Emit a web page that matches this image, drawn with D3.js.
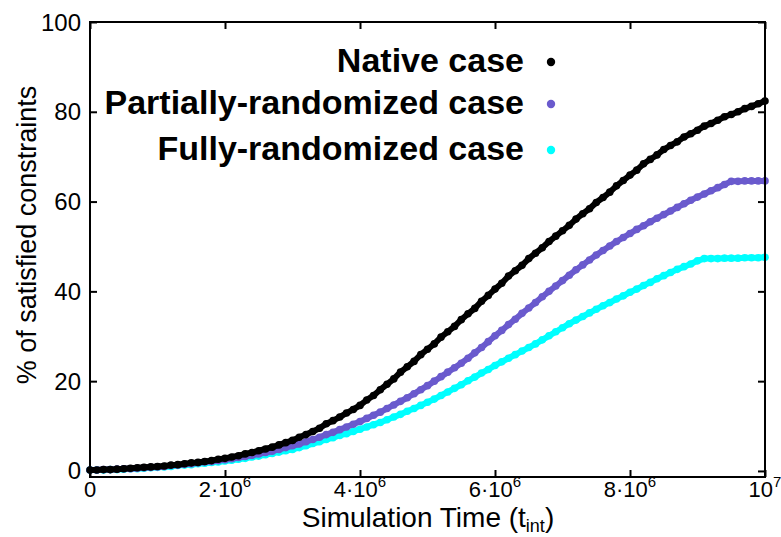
<!DOCTYPE html>
<html><head><meta charset="utf-8">
<script src="https://cdn.jsdelivr.net/npm/d3@7"></script>
<style>body{margin:0;background:#fff}svg{display:block}text{font-family:"Liberation Sans",Arial,sans-serif}</style>
</head><body>
<svg id="c" width="781" height="537"></svg>
<script>
// time in units of 1e6 t_int, step 0.1
const times = d3.range(0, 101).map(i => i / 10);
const nativeCase = [0.2,0.2,0.3,0.3,0.4,0.5,0.6,0.7,0.8,0.9,
 1.0,1.1,1.3,1.4,1.6,1.8,1.9,2.1,2.3,2.6,
 2.8,3.1,3.4,3.8,4.1,4.5,4.9,5.3,5.8,6.3,
 6.8,7.5,8.1,8.8,9.5,10.5,11.2,12.0,12.9,13.7,
 14.6,15.8,16.8,18.1,19.3,20.5,22.0,23.2,24.4,25.9,
 27.1,28.3,29.8,31.0,32.2,33.7,35.0,36.2,37.8,39.1,
 40.5,41.8,43.4,44.6,45.8,47.3,48.5,49.7,51.1,52.3,
 53.5,54.7,56.1,57.3,58.4,59.8,60.9,62.1,63.5,64.7,
 65.9,67.0,68.4,69.4,70.4,71.6,72.5,73.3,74.4,75.1,
 75.9,76.8,77.4,78.1,78.9,79.4,80.0,80.7,81.2,81.8,82.4];
const partialCase = [0.2,0.2,0.3,0.3,0.4,0.5,0.5,0.6,0.7,0.8,
 0.9,1.0,1.2,1.3,1.5,1.6,1.8,2.0,2.1,2.3,
 2.5,2.7,3.0,3.2,3.5,3.8,4.1,4.4,4.8,5.2,
 5.6,6.0,6.5,7.0,7.5,8.1,8.6,9.2,9.8,10.4,
 11.0,11.7,12.4,13.1,13.9,14.7,15.5,16.3,17.2,18.1,
 19.0,20.0,21.0,22.0,23.0,24.0,25.1,26.3,27.5,28.8,
 30.1,31.3,32.6,33.8,35.1,36.3,37.5,38.8,40.0,41.2,
 42.4,43.6,44.8,45.9,47.0,48.1,49.1,50.1,51.1,52.0,
 52.9,53.8,54.6,55.5,56.3,57.1,57.9,58.7,59.5,60.3,
 61.0,61.7,62.4,63.1,63.8,64.5,64.5,64.6,64.6,64.6,64.6];
const fullyCase = [0.2,0.2,0.2,0.3,0.3,0.4,0.5,0.5,0.6,0.7,
 0.8,0.9,1.0,1.2,1.3,1.4,1.6,1.7,1.9,2.0,
 2.2,2.4,2.6,2.8,3.1,3.3,3.6,3.9,4.2,4.5,
 4.8,5.2,5.6,6.1,6.5,7.0,7.4,7.9,8.3,8.8,
 9.3,9.8,10.3,10.8,11.4,12.0,12.6,13.3,13.9,14.6,
 15.3,16.0,16.8,17.6,18.4,19.2,20.1,20.9,21.8,22.6,
 23.5,24.3,25.1,25.9,26.7,27.5,28.3,29.2,30.1,31.0,
 31.9,32.8,33.6,34.4,35.2,36.0,36.8,37.5,38.3,39.0,
 39.8,40.5,41.3,42.0,42.8,43.5,44.2,44.9,45.5,46.1,
 46.8,47.3,47.3,47.3,47.4,47.4,47.4,47.5,47.5,47.5,47.6];
const seriesNames = ["Native case", "Partially-randomized case", "Fully-randomized case"];
const seriesColors = ["#000000", "#6a5acd", "#00ffff"];
const xTickValues = [0, 2, 4, 6, 8, 10];
const xTickLabels = [["0",""],["2·10","6"],["4·10","6"],["6·10","6"],["8·10","6"],["10","7"]];
const yTickValues = [0, 20, 40, 60, 80, 100];

const svg = d3.select("#c");
const L = 90, R = 765, T = 22, B = 477;
const x = d3.scaleLinear().domain([0, 10]).range([L, R]);
const y = d3.scaleLinear().domain([-1.35, 100]).range([B, T]);

const series = [nativeCase, partialCase, fullyCase].map((v, i) => ({
  name: seriesNames[i], color: seriesColors[i],
  pts: v.map((d, j) => [times[j], d])
}));

const line = d3.line().x(d => x(d[0])).y(d => y(d[1]));
const plot = svg.append("g");
// draw cyan first, black last
[...series].reverse().forEach(s => {
  plot.append("path").attr("d", line(s.pts)).attr("fill", "none")
    .attr("stroke", s.color).attr("stroke-width", 6).attr("stroke-linejoin", "round");
  plot.selectAll(null).data(s.pts).enter().append("circle")
    .attr("cx", d => x(d[0])).attr("cy", d => y(d[1])).attr("r", 3.8).attr("fill", s.color);
});

// frame
svg.append("rect").attr("x", L).attr("y", T).attr("width", R - L).attr("height", B - T)
  .attr("fill", "none").attr("stroke", "#000").attr("stroke-width", 2);

const tl = 7;
const axB = svg.append("g").attr("transform", `translate(0,${B})`)
  .call(d3.axisBottom(x).tickValues(xTickValues).tickSize(-tl).tickFormat(""));
const axT = svg.append("g").attr("transform", `translate(0,${T})`)
  .call(d3.axisTop(x).tickValues(xTickValues).tickSize(-tl).tickFormat(""));
const axL = svg.append("g").attr("transform", `translate(${L},0)`)
  .call(d3.axisLeft(y).tickValues(yTickValues).tickSize(-tl).tickFormat(""));
const axR = svg.append("g").attr("transform", `translate(${R},0)`)
  .call(d3.axisRight(y).tickValues(yTickValues).tickSize(-tl).tickFormat(""));
[axB, axT, axL, axR].forEach(a => {
  a.select(".domain").remove();
  a.selectAll(".tick line").attr("stroke", "#000").attr("stroke-width", 2);
});

// x tick labels
xTickValues.forEach((v, i) => {
  const t = svg.append("text").attr("x", x(v)).attr("y", 497).attr("text-anchor", "middle")
    .attr("font-size", 22).attr("fill", "#000");
  t.append("tspan").text(xTickLabels[i][0]);
  if (xTickLabels[i][1]) t.append("tspan").attr("dy", -10).attr("font-size", 15).text(xTickLabels[i][1]);
});
// y tick labels
yTickValues.forEach(v => {
  svg.append("text").attr("x", L - 9).attr("y", y(v) + 8.5).attr("text-anchor", "end")
    .attr("font-size", 24).attr("fill", "#000").text(v);
});

// axis titles
const xt = svg.append("text").attr("x", 428).attr("y", 527).attr("text-anchor", "middle")
  .attr("font-size", 28).attr("fill", "#000");
xt.append("tspan").text("Simulation Time (t");
xt.append("tspan").attr("dy", 5).attr("font-size", 18).text("int");
xt.append("tspan").attr("dy", -5).text(")");

svg.append("text").attr("transform", "translate(36,235) rotate(-90)").attr("text-anchor", "middle")
  .attr("font-size", 27).attr("fill", "#000").text("% of satisfied constraints");

// legend
const legY = [72, 114, 160];
series.forEach((s, i) => {
  svg.append("text").attr("x", 524).attr("y", legY[i]).attr("text-anchor", "end")
    .attr("font-size", 34).attr("font-weight", "bold").attr("fill", "#000").text(s.name);
  svg.append("circle").attr("cx", 551).attr("cy", legY[i] - 10).attr("r", 4.2).attr("fill", s.color);
});
</script>
</body></html>
